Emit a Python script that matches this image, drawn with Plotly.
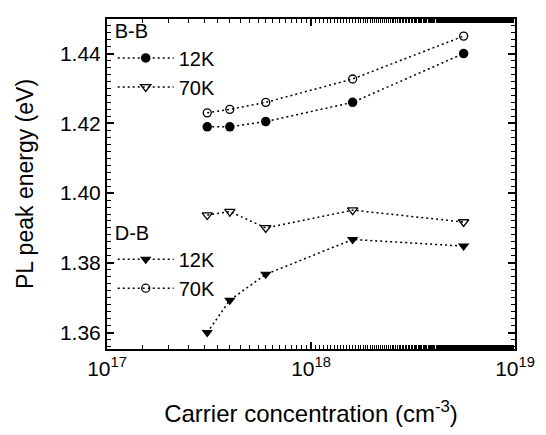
import plotly.graph_objects as go

conc = [3.1e17, 4.0e17, 6.0e17, 1.6e18, 5.6e18]
bb_12k = [1.419, 1.419, 1.4205, 1.426, 1.440]
bb_70k = [1.423, 1.424, 1.426, 1.4327, 1.445]
db_12k = [1.360, 1.3693, 1.3767, 1.3867, 1.3848]
db_70k = [1.3937, 1.3947, 1.390, 1.3951, 1.3917]

xtick_vals = [1e17, 1e18, 1e19]
xtick_text = ["10<sup>17</sup>", "10<sup>18</sup>", "10<sup>19</sup>"]

FONT = "Liberation Sans, Arial, sans-serif"
line = dict(color="black", width=1.5, dash="2px,3px")

fig = go.Figure()

series = [
    (bb_70k, dict(symbol="circle-open", size=8, color="black", line=dict(width=1.3))),
    (bb_12k, dict(symbol="circle", size=9.5, color="black")),
    (db_70k, dict(symbol="triangle-down-open", size=9, color="black", line=dict(width=1.3))),
    (db_12k, dict(symbol="triangle-down", size=10, color="black")),
]
for ys, mk in series:
    fig.add_trace(go.Scatter(x=conc, y=ys, mode="lines+markers", line=line,
                             marker=mk, showlegend=False))

# legend entries as printed in the original figure
leg = [
    ("12K", dict(symbol="circle", size=9.5, color="black"), "legend"),
    ("70K", dict(symbol="triangle-down-open", size=9, color="black", line=dict(width=1.3)), "legend"),
    ("12K", dict(symbol="triangle-down", size=10, color="black"), "legend2"),
    ("70K", dict(symbol="circle-open", size=8, color="black", line=dict(width=1.3)), "legend2"),
]
for name, mk, lg in leg:
    fig.add_trace(go.Scatter(x=[None], y=[None], mode="lines+markers", name=name,
                             line=line, marker=mk, legend=lg))

legend_common = dict(bgcolor="rgba(0,0,0,0)", font=dict(family=FONT, size=20, color="black"),
                     xanchor="left", yanchor="top", itemwidth=56,
                     tracegroupgap=0)

fig.update_layout(
    width=546, height=435,
    margin=dict(l=107, r=31, t=12, b=86),
    paper_bgcolor="white", plot_bgcolor="white",
    font=dict(family=FONT, size=20, color="black"),
    legend=dict(**legend_common, x=0.014, y=1.02,
                title=dict(text="B-B", font=dict(family=FONT, size=20))),
    legend2=dict(**legend_common, x=0.014, y=0.41,
                 title=dict(text="D-B", font=dict(family=FONT, size=20))),
    xaxis=dict(type="log", range=[17, 19], tickvals=xtick_vals, ticktext=xtick_text,
               ticks="inside", ticklen=7, tickwidth=1.5, tickcolor="black",
               showline=True, linecolor="black", linewidth=2, mirror="allticks",
               showgrid=False, zeroline=False,
               tickfont=dict(family=FONT, size=21),
               minor=dict(ticks="inside", ticklen=4, tickcolor="black", tickwidth=1.2, showgrid=False),
               title=dict(text="Carrier concentration (cm<sup>-3</sup>)", font=dict(family=FONT, size=24),
                          standoff=26)),
    yaxis=dict(range=[1.3553, 1.4499], tickvals=[1.36, 1.38, 1.40, 1.42, 1.44],
               ticktext=["1.36", "1.38", "1.40", "1.42", "1.44"],
               ticks="inside", ticklen=7, tickwidth=1.5, tickcolor="black",
               showline=True, linecolor="black", linewidth=2, mirror="allticks",
               showgrid=False, zeroline=False,
               tickfont=dict(family=FONT, size=21),
               minor=dict(dtick=0.002, tick0=1.36, ticks="inside", ticklen=4, tickcolor="black",
                          tickwidth=1.2, showgrid=False),
               title=dict(text="PL peak energy (eV)", font=dict(family=FONT, size=23), standoff=20)),
)

fig.write_html("out.html")
